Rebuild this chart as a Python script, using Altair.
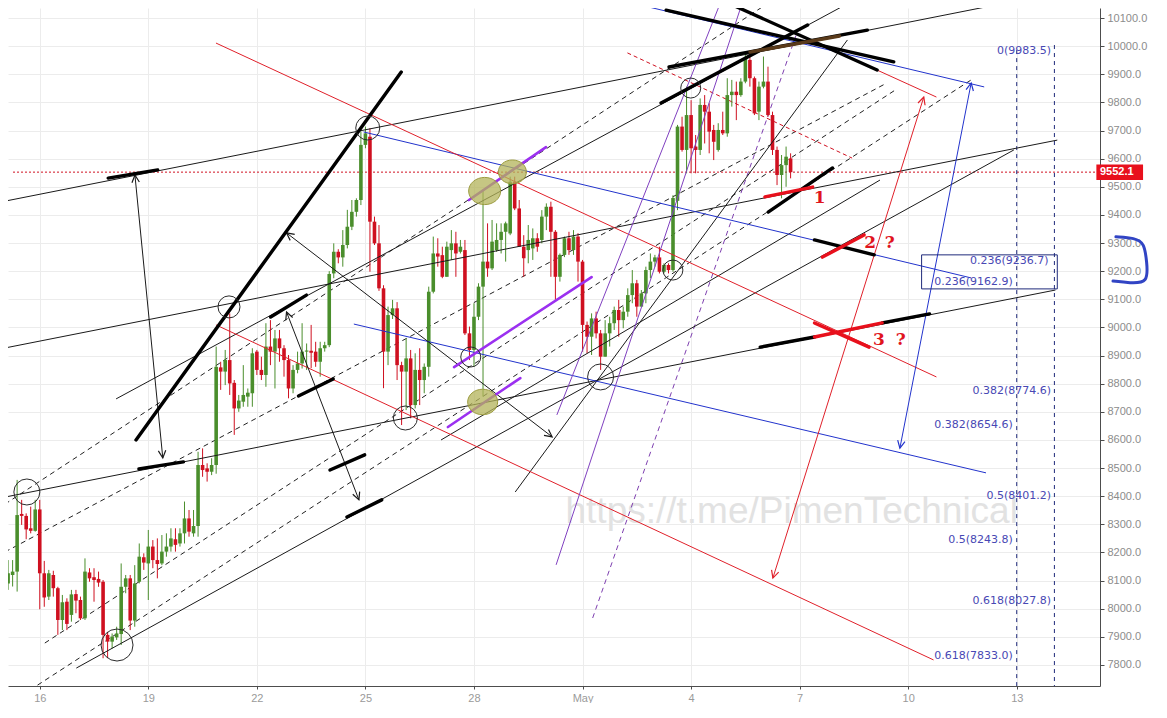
import math
import altair as alt
import pandas as pd

# ---------------- 3-hour candles, starting 2018-04-15 00:00 (x unit = days since Apr 15)
opens = [8031, 8090, 8120, 8132, 8337, 8330, 8286, 8277, 8353, 8126,
         8043, 8120, 8073, 7960, 8025, 7978, 8052, 8031, 7966, 8129,
         8112, 8106, 8096, 7907, 7883, 7898, 7910, 8078, 8108, 7958,
         8096, 8183, 8161, 8221, 8173, 8161, 8203, 8221, 8247, 8232,
         8268, 8321, 8268, 8294, 8511, 8499, 8487, 8511, 8858, 8843,
         8884, 8803, 8712, 8736, 8754, 8766, 8914, 8849, 8831, 8932,
         8914, 8961, 8926, 8884, 8783, 8849, 8872, 8914, 8917, 8914,
         8878, 8926, 8937, 9192, 9269, 9249, 9293, 9358, 9411, 9453,
         9649, 9678, 9376, 9299, 9139, 8914, 9044, 9068, 8866, 8843,
         8890, 8724, 8849, 8813, 8860, 9127, 9263, 9257, 9180, 9275,
         9299, 9269, 9275, 8979, 8920, 9038, 9145, 9234, 9210, 9275,
         9311, 9340, 9334, 9518, 9423, 9287, 9275, 9281, 9317, 9311,
         9394, 9429, 9340, 9180, 9258, 9317, 9275, 9323, 9234, 9009,
         8967, 9032, 8979, 8896, 8979, 9015, 9062, 9026, 9056, 9115,
         9157, 9074, 9121, 9204, 9234, 9249, 9198, 9222, 9204, 9450,
         9714, 9631, 9755, 9643, 9631, 9791, 9767, 9702, 9631, 9702,
         9690, 9826, 9838, 9826, 9874, 9951, 9886, 9767, 9856, 9874,
         9755, 9631, 9542, 9577, 9601]
highs = [8185, 8173, 8173, 8458, 8387, 8339, 8363, 8387, 8387, 8170,
         8138, 8135, 8078, 8049, 8037, 8067, 8067, 8043, 8179, 8144,
         8144, 8132, 8102, 7918, 7912, 7936, 8161, 8120, 8120, 8155,
         8232, 8197, 8280, 8244, 8250, 8262, 8268, 8286, 8286, 8286,
         8381, 8351, 8351, 8558, 8570, 8517, 8535, 8932, 8878, 8920,
         9050, 8813, 8760, 8866, 8783, 8926, 8920, 8896, 9015, 9026,
         8991, 8991, 8937, 8902, 8866, 8914, 9015, 8943, 9009, 8949,
         8949, 8949, 9200, 9299, 9278, 9346, 9418, 9453, 9459, 9696,
         9714, 9708, 9394, 9364, 9150, 9074, 9098, 9090, 8878, 8961,
         8920, 8908, 8926, 8872, 9145, 9323, 9317, 9287, 9305, 9346,
         9340, 9311, 9311, 9003, 9086, 9157, 9489, 9370, 9382, 9370,
         9370, 9376, 9536, 9536, 9453, 9328, 9364, 9352, 9335, 9417,
         9441, 9447, 9346, 9263, 9323, 9340, 9346, 9335, 9240, 9021,
         9050, 9056, 8991, 9026, 9038, 9074, 9098, 9074, 9139, 9204,
         9169, 9133, 9216, 9263, 9258, 9287, 9228, 9228, 9470, 9720,
         9749, 9856, 9808, 9684, 9814, 9826, 9797, 9720, 9726, 9767,
         9886, 9880, 9874, 9886, 9980, 9974, 9892, 9874, 9963, 9927,
         9767, 9643, 9613, 9643, 9619]
lows = [8007, 8067, 8079, 8061, 8298, 8247, 8268, 8274, 7998, 8007,
        8031, 8043, 7907, 7924, 7924, 7954, 7984, 7960, 7960, 8096,
        8025, 8078, 7824, 7824, 7859, 7889, 7871, 8055, 7924, 7936,
        8090, 8138, 8031, 8144, 8108, 8155, 8185, 8203, 8203, 8221,
        8232, 8256, 8256, 8256, 8469, 8452, 8475, 8480, 8778, 8795,
        8760, 8618, 8700, 8718, 8718, 8718, 8831, 8813, 8789, 8866,
        8783, 8878, 8825, 8748, 8766, 8837, 8854, 8849, 8855, 8860,
        8825, 8914, 8930, 9175, 9228, 9216, 9281, 9346, 9394, 9435,
        9637, 9198, 9293, 9130, 8784, 8866, 9030, 8813, 8653, 8706,
        8677, 8712, 8724, 8766, 8825, 9121, 9216, 9175, 9180, 9240,
        9180, 9263, 8973, 8884, 8860, 9026, 8754, 9180, 9204, 9269,
        9263, 9234, 9328, 9417, 9287, 9180, 9228, 9240, 9269, 9299,
        9346, 9180, 9098, 9163, 9250, 9258, 9258, 9163, 8914, 8908,
        8902, 8961, 8849, 8896, 8932, 8991, 8967, 8997, 9038, 9086,
        9038, 9074, 9086, 9175, 9216, 9192, 9192, 9192, 9198, 9417,
        9625, 9548, 9548, 9548, 9613, 9654, 9619, 9595, 9625, 9684,
        9678, 9785, 9737, 9820, 9868, 9856, 9755, 9737, 9850, 9749,
        9613, 9506, 9459, 9500, 9530]
closes = [8161, 8126, 8132, 8333, 8330, 8282, 8277, 8353, 8126, 8040,
          8126, 8073, 7960, 8023, 7946, 8051, 8029, 7966, 8132, 8108,
          8102, 8093, 7907, 7883, 7901, 7912, 8078, 8108, 7958, 8090,
          8185, 8164, 8221, 8173, 8159, 8203, 8221, 8250, 8227, 8268,
          8321, 8274, 8294, 8511, 8493, 8487, 8511, 8860, 8843, 8884,
          8801, 8712, 8740, 8760, 8768, 8908, 8849, 8831, 8932, 8914,
          8961, 8926, 8884, 8783, 8849, 8872, 8914, 8917, 8910, 8878,
          8926, 8937, 9190, 9269, 9249, 9293, 9358, 9411, 9453, 9649,
          9690, 9376, 9299, 9139, 8914, 9044, 9068, 8866, 8843, 8890,
          8724, 8849, 8813, 8860, 9127, 9263, 9252, 9180, 9287, 9299,
          9263, 9287, 8979, 8920, 9038, 9145, 9234, 9210, 9305, 9311,
          9340, 9370, 9518, 9423, 9287, 9246, 9311, 9317, 9287, 9394,
          9429, 9340, 9180, 9258, 9317, 9275, 9323, 9234, 9009, 8967,
          9032, 8979, 8896, 8979, 9015, 9062, 9026, 9056, 9115, 9157,
          9074, 9121, 9204, 9234, 9249, 9198, 9222, 9204, 9460, 9714,
          9631, 9755, 9637, 9631, 9791, 9767, 9696, 9660, 9702, 9690,
          9826, 9838, 9826, 9874, 9957, 9886, 9761, 9856, 9874, 9755,
          9631, 9542, 9577, 9607, 9552]

last_price = 9552.1

# ---------------- drawings: (day0, price0, day1, price1)
black_thin = [(0.04, 9449, 28.11, 10164), (0.04, 8927, 29.12, 9666), (0.04, 8397, 29.07, 9133),
              (3.11, 8746, 23.51, 10164), (2.01, 7789, 27.92, 9631), (14.14, 8415, 23.32, 10022),
              (12.09, 8600, 24.22, 9524)]
black_arrows = [(3.63, 9542, 4.40, 8536), (7.82, 9336, 15.16, 8611), (7.82, 9055, 9.82, 8387)]
black_thick = [(3.66, 8600, 10.99, 9908), (2.89, 9531, 4.26, 9560), (3.74, 8497, 4.97, 8522),
               (7.38, 9037, 8.37, 9115), (8.15, 8756, 9.11, 8817), (9.02, 8493, 9.98, 8547),
               (9.49, 8326, 10.45, 8387), (18.17, 9798, 22.22, 10075), (18.31, 10128, 24.60, 9944),
               (19.84, 10164, 24.14, 9915), (21.13, 9410, 22.91, 9567), (22.41, 9311, 24.06, 9258),
               (20.91, 8930, 22.41, 8966), (24.28, 9016, 25.59, 9048), (18.39, 9926, 23.87, 10057)]
black_dashed = [(0.04, 8372, 21.26, 10164), (0.04, 8202, 24.41, 9869), (1.14, 7878, 24.69, 9848),
                (0.73, 7711, 26.74, 9880)]
brown_thick = [(20.63, 9979, 23.10, 10036)]
red_thin = [(5.87, 10011, 25.78, 8824), (5.87, 9009, 25.70, 7818), (24.14, 9915, 25.78, 9819)]
red_arrows = [(21.26, 8109, 25.43, 9819)]
red_dashed = [(17.24, 9976, 23.45, 9602)]
red_thick = [(21.04, 9464, 22.36, 9499), (22.63, 9250, 23.78, 9329), (22.41, 8966, 24.28, 9016),
             (22.41, 9016, 23.92, 8930)]
blue_thin = [(9.95, 9695, 26.74, 9176), (17.02, 10164, 27.10, 9855), (9.68, 9012, 27.15, 8483)]
blue_arrows = [(24.77, 8571, 26.74, 9869)]
purple_thick = [(12.86, 9453, 14.99, 9641), (12.45, 8859, 16.25, 9179), (12.28, 8646, 14.28, 8820)]
purple_thin = [(15.29, 8689, 19.84, 10164), (15.27, 8156, 20.44, 10164)]
purple_dashed = [(16.28, 7967, 21.95, 10057)]

peach_polys = [[(20.63, 9979), (23.18, 10040), (21.40, 9702), (20.77, 9755)],
               [(20.77, 9755), (21.54, 9720), (22.14, 9496), (23.04, 9300)],
               [(22.14, 9496), (27.92, 9631), (23.04, 9300)]]

circles_d = [0.644, 3.136, 6.230, 10.064, 11.104, 12.911, 16.499, 18.497, 18.990]
circles_p = [8415, 7871, 9073, 9709, 8678, 8895, 8824, 9204, 9851]
circles_r = [13, 16, 11, 12, 12, 10, 13, 10, 10]
blobs_d = [13.295, 14.061, 13.24]
blobs_p = [9485, 9553, 8735]
blobs_r = [16, 14, 15]

fib_right_text = ["0(9983.5)", "0.236(9236.7)", "0.382(8774.6)", "0.5(8401.2)", "0.618(8027.8)"]
fib_right_p = [9983.5, 9236.7, 8774.6, 8401.2, 8027.8]
fib_left_text = ["0.236(9162.9)", "0.382(8654.6)", "0.5(8243.8)", "0.618(7833.0)"]
fib_left_p = [9162.9, 8654.6, 8243.8, 7833.0]
fib_vlines_d = [27.999, 29.04]
fib_vlines_top = [9986, 10004]

notes_text = ["1", "2", "?", "3", "?"]
notes_d = [22.55, 23.95, 24.49, 24.19, 24.79]
notes_p = [9460, 9300, 9300, 8955, 8955]

bracket_d = [30.74, 31.26, 31.53, 31.59, 31.64, 31.12, 30.66]
bracket_p = [9322, 9318, 9300, 9233, 9158, 9158, 9165]

# ---------------- layout
X_DOM = [0.2607, 30.162]
Y_DOM = [7725.3, 10135.6]
W, H = 1092, 678
sx = W / (X_DOM[1] - X_DOM[0])
sy = H / (Y_DOM[1] - Y_DOM[0])
xs = alt.Scale(domain=X_DOM, nice=False, zero=False)
ys = alt.Scale(domain=Y_DOM, nice=False, zero=False)

x_axis = alt.Axis(values=list(range(1, 29, 3)),
                  labelExpr="datum.value < 16 ? '' + (datum.value + 15) : (datum.value == 16 ? 'May' : '' + (datum.value - 15))",
                  grid=True, gridColor="#ececec", domainColor="#4d4d4d", tickColor="#4d4d4d", tickSize=3,
                  labelColor="#9a9a9a", labelFontSize=11, labelFont="Liberation Sans Narrow, Liberation Sans",
                  labelPadding=3, title=None)
y_axis = alt.Axis(orient="right", values=list(range(7800, 10101, 100)), format=".1f", grid=True,
                  gridColor="#ececec", domainColor="#4d4d4d", tickColor="#4d4d4d", tickSize=4,
                  labelColor="#8c8c8c", labelFontSize=11, labelFont="Liberation Sans", labelPadding=3,
                  title=None)


def X(f):
    return alt.X(f, type="quantitative", scale=xs, axis=x_axis)


def Y(f):
    return alt.Y(f, type="quantitative", scale=ys, axis=y_axis)


def seg(rows, color, width, dash=None, cap="butt", opacity=1.0):
    df = pd.DataFrame(rows, columns=["d0", "p0", "d1", "p1"])
    kw = dict(color=color, strokeWidth=width, strokeCap=cap, opacity=opacity, clip=True)
    if dash:
        kw["strokeDash"] = dash
    return alt.Chart(df).mark_rule(**kw).encode(x=X("d0"), y=Y("p0"), x2="d1:Q", y2="p1:Q")


ARROW = "M-0.5,1L0,0L0.5,1"


def heads(rows, color):
    out = []
    for d0, p0, d1, p1 in rows:
        vx = (d1 - d0) * sx
        vy = -(p1 - p0) * sy
        a = math.degrees(math.atan2(vx, -vy)) % 360
        out.append((d1, p1, a))
        out.append((d0, p0, (a + 180) % 360))
    df = pd.DataFrame(out, columns=["d", "p", "a"])
    return alt.Chart(df).mark_point(shape=ARROW, filled=False, color=color, strokeWidth=1.2,
                                    size=220, opacity=1, clip=True).encode(
        x=X("d"), y=Y("p"), angle=alt.Angle("a:Q", scale=None))


def strips(poly, pid):
    xs_ = sorted(set(v[0] for v in poly))
    rows = []
    for x in xs_:
        vals = []
        for k in range(len(poly)):
            (xa, ya), (xb, yb) = poly[k], poly[(k + 1) % len(poly)]
            if min(xa, xb) <= x <= max(xa, xb):
                if xa == xb:
                    vals += [ya, yb]
                else:
                    vals.append(ya + (yb - ya) * (x - xa) / (xb - xa))
        rows.append((pid, x, min(vals), max(vals)))
    return rows


# ---------------- candles
n = len(opens)
cdf = pd.DataFrame({"d": [i / 8 for i in range(n)], "o": opens, "h": highs, "l": lows, "c": closes})
cdf["col"] = ["#4a8e2c" if c >= o else "#cf1020" for o, c in zip(opens, closes)]
cdf["lo"] = cdf[["o", "c"]].min(axis=1)
cdf["hi"] = cdf[["o", "c"]].max(axis=1)
cdf.loc[cdf["hi"] - cdf["lo"] < 4, "hi"] = cdf["lo"] + 4

wicks = alt.Chart(cdf).mark_rule(strokeWidth=1, clip=True).encode(
    x=X("d"), y=Y("l"), y2="h:Q", color=alt.Color("col:N", scale=None))
bodies = alt.Chart(cdf).mark_bar(size=3.6, clip=True).encode(
    x=X("d"), y=Y("lo"), y2="hi:Q", color=alt.Color("col:N", scale=None))

# peach zones
prow = []
for k, poly in enumerate(peach_polys):
    prow += strips(poly, k)
pdf = pd.DataFrame(prow, columns=["pid", "x", "lo", "hi"])
peach = alt.Chart(pdf).mark_area(color="#f9dbb9", opacity=1, interpolate="linear", clip=True).encode(
    x=X("x"), y=Y("lo"), y2="hi:Q", detail="pid:N", order="x:Q")

watermark = alt.Chart(pd.DataFrame({"d": [21.78], "p": [8344], "t": ["https://t.me/PimenTechnical"]})).mark_text(
    fontSize=37, font="Liberation Sans", color="#e2e2e2", align="center", baseline="middle").encode(
    x=X("d"), y=Y("p"), text="t:N")

price_line = alt.Chart(pd.DataFrame({"d0": [X_DOM[0]], "d1": [X_DOM[1]], "p": [last_price]})).mark_rule(
    color="#d01020", strokeWidth=1, strokeDash=[2, 2]).encode(x=X("d0"), x2="d1:Q", y=Y("p"))

vdf = pd.DataFrame({"d": fib_vlines_d, "top": fib_vlines_top, "bot": [Y_DOM[0]] * len(fib_vlines_d)})
fib_v = alt.Chart(vdf).mark_rule(color="#1f2a7a", strokeWidth=1, strokeDash=[4, 4]).encode(
    x=X("d"), y=Y("top"), y2="bot:Q")

fr = pd.DataFrame({"t": fib_right_text, "p": fib_right_p, "d": [28.95] * len(fib_right_p)})
fr.loc[fr["t"] == "0.236(9236.7)", "d"] = 28.88
fl = pd.DataFrame({"t": fib_left_text, "p": fib_left_p, "d": [27.89] * len(fib_left_p)})
fib_txt = alt.Chart(pd.concat([fr, fl])).mark_text(
    align="right", baseline="middle", fontSize=11, font="DejaVu Sans", color="#4848b4").encode(
    x=X("d"), y=Y("p"), text="t:N")
fib_box = alt.Chart(pd.DataFrame({"d0": [25.37], "d1": [29.12], "p0": [9137], "p1": [9258]})).mark_rect(
    fillOpacity=0, stroke="#1f2a7a", strokeWidth=1).encode(x=X("d0"), x2="d1:Q", y=Y("p0"), y2="p1:Q")

cir = alt.Chart(pd.DataFrame({"d": circles_d, "p": circles_p, "s": [(2 * r) ** 2 for r in circles_r]})).mark_point(
    shape="circle", filled=False, color="#2a2a2a", strokeWidth=1, opacity=1, clip=True).encode(
    x=X("d"), y=Y("p"), size=alt.Size("s:Q", scale=None))
blobs = alt.Chart(pd.DataFrame({"d": blobs_d, "p": blobs_p, "s": [(2 * r) ** 2 for r in blobs_r]})).mark_point(
    shape="M-1,0A1,0.85,0,1,1,1,0A1,0.85,0,1,1,-1,0Z", filled=True, fill="#b3b35a", fillOpacity=0.75,
    stroke="#9c9c40", strokeWidth=1, opacity=1).encode(x=X("d"), y=Y("p"), size=alt.Size("s:Q", scale=None))

notes = alt.Chart(pd.DataFrame({"t": notes_text, "d": notes_d, "p": notes_p})).mark_text(
    fontSize=17, font="DejaVu Serif", fontWeight="bold", color="#e0141e", align="center",
    baseline="middle").encode(x=X("d"), y=Y("p"), text="t:N")

tag = alt.Chart(pd.DataFrame({"d0": [30.20], "d1": [31.49], "p0": [9524], "p1": [9579]})).mark_rect(
    color="#e8101c").encode(x=X("d0"), x2="d1:Q", y=Y("p0"), y2="p1:Q")
tag_txt = alt.Chart(pd.DataFrame({"d": [30.30], "p": [last_price], "t": ["9552.1"]})).mark_text(
    align="left", baseline="middle", fontSize=11, font="Liberation Sans", fontWeight="bold",
    color="white").encode(x=X("d"), y=Y("p"), text="t:N")

bracket = alt.Chart(pd.DataFrame({"d": bracket_d, "p": bracket_p, "o": list(range(len(bracket_d)))})).mark_line(
    color="#3144c4", strokeWidth=3, strokeCap="round", strokeJoin="round", interpolate="basis").encode(
    x=X("d"), y=Y("p"), order="o:Q")

layers = [
    peach, watermark,
    seg(black_dashed, "#222222", 1, dash=[5, 4]),
    seg(purple_dashed, "#7e3fb0", 1, dash=[5, 4]),
    seg(red_dashed, "#d01020", 1, dash=[4, 3]),
    price_line,
    fib_v,
    wicks, bodies,
    seg(black_thin, "#1a1a1a", 1),
    seg(blue_thin, "#2233cc", 1),
    seg(red_thin, "#e0202a", 1),
    seg(purple_thin, "#8040c0", 1),
    seg(black_arrows, "#1a1a1a", 1), heads(black_arrows, "#1a1a1a"),
    seg(red_arrows, "#e0202a", 1), heads(red_arrows, "#e0202a"),
    seg(blue_arrows, "#2233cc", 1), heads(blue_arrows, "#2233cc"),
    seg(purple_thick, "#9b30f0", 2.6, cap="round"),
    seg(black_thick, "#000000", 3.4, cap="round"),
    seg(brown_thick, "#5a3a1a", 3.4, cap="round"),
    seg(red_thick, "#e8101c", 3.4, cap="round"),
    cir, blobs, notes, fib_txt, fib_box, tag, tag_txt, bracket,
]

chart = alt.layer(*layers).properties(
    width=W, height=H, background="white",
    padding={"left": 0, "top": 0, "right": 2, "bottom": 0},
).configure_view(strokeWidth=0)

chart.save("out.html", embed_options={"renderer": "svg", "actions": False})
